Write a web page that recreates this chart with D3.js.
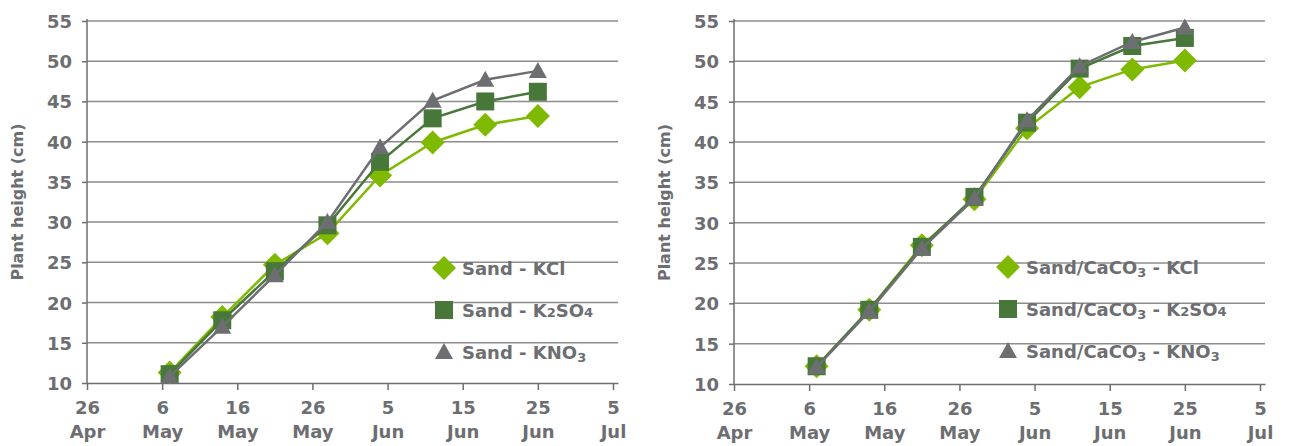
<!DOCTYPE html>
<html>
<head>
  <meta charset=utf-8 />
  <title>Plant height</title>
  <style>
    body { margin:0; background:#fff; }
    text { fill:#6d6e71; font-family:"DejaVu Sans"; font-weight:bold; font-size:18px; }
    .grid line { stroke:#8c8c8c; stroke-width:1.5px; }
    .domain { stroke:#6d6e71; stroke-width:1.5px; }
    .tick line { stroke:#6d6e71; stroke-width:1.5px; }
  </style>
</head>
<body>
  <div id="container"></div>
  <script src="https://d3js.org/d3.v7.min.js"></script>
  <script>

// dates of measurement (weekly)
var dates = ["2015-05-07","2015-05-14","2015-05-21","2015-05-28","2015-06-04","2015-06-11","2015-06-18","2015-06-25"];
var xTicks = ["2015-04-26","2015-05-06","2015-05-16","2015-05-26","2015-06-05","2015-06-15","2015-06-25","2015-07-05"];
var yTicks = [10,15,20,25,30,35,40,45,50,55];

// sand
var sandKCl   = [11.3, 18.2, 24.7, 28.6, 35.8, 39.9, 42.1, 43.2];
var sandK2SO4 = [11.1, 17.8, 23.9, 29.6, 37.5, 42.9, 45.0, 46.2];
var sandKNO3  = [10.8, 17.0, 23.4, 30.0, 39.3, 45.1, 47.7, 48.8];

// sand / CaCO3
var caKCl   = [12.2, 19.2, 27.2, 32.9, 41.7, 46.8, 49.0, 50.1];
var caK2SO4 = [12.2, 19.2, 27.0, 33.2, 42.4, 49.1, 51.9, 52.9];
var caKNO3  = [12.1, 19.0, 26.8, 33.0, 42.7, 49.4, 52.4, 54.2];

var colors = {kcl:"#7fba00", k2so4:"#48773a", kno3:"#6d6e71"};

var parse = d3.timeParse("%Y-%m-%d");
var fmtDay = d3.timeFormat("%-d"), fmtMon = d3.timeFormat("%b");

var svg = d3.select("#container").append("svg")
  .attr("width", 1290).attr("height", 446);

// marker shapes
function marker(g, type, x, y) {
  if (type == "kcl") {
    g.append("path").attr("d", "M"+x+","+(y-12)+"L"+(x+12)+","+y+"L"+x+","+(y+12)+"L"+(x-12)+","+y+"Z")
      .attr("fill", colors.kcl);
  } else if (type == "k2so4") {
    g.append("rect").attr("x", x-9).attr("y", y-9).attr("width", 18).attr("height", 18)
      .attr("fill", colors.k2so4);
  } else {
    g.append("path").attr("d", "M"+x+","+(y-9)+"L"+(x+9)+","+(y+7)+"L"+(x-9)+","+(y+7)+"Z")
      .attr("fill", colors.kno3);
  }
}

function chart(left, right, top, bottom, series, legend) {
  var x = d3.scaleTime()
    .domain([parse("2015-04-26"), d3.timeHour.offset(parse("2015-07-05"), 16)])
    .range([left, right]);
  var y = d3.scaleLinear().domain([10, 55]).range([bottom, top]);

  var g = svg.append("g");

  // horizontal gridlines
  g.append("g").attr("class", "grid")
    .selectAll("line").data(yTicks.slice(1)).enter().append("line")
    .attr("x1", left).attr("x2", right)
    .attr("y1", function(d){ return y(d); }).attr("y2", function(d){ return y(d); });

  // y axis
  var ya = g.append("g").attr("transform", "translate(" + left + ",0)")
    .call(d3.axisLeft(y).tickValues(yTicks).tickSize(5).tickPadding(10));
  ya.select(".domain").attr("d", "M0," + (top-2) + "V" + bottom);
  ya.selectAll("text").style("font-size", "18px").attr("dy", "0.36em");

  // x axis
  var xa = g.append("g").attr("transform", "translate(0," + bottom + ")")
    .call(d3.axisBottom(x).tickValues(xTicks.map(parse)).tickSize(7).tickSizeOuter(0).tickFormat(""));
  xa.select(".domain").attr("stroke", "#8c8c8c");
  xa.selectAll(".tick").append("text")
    .attr("y", 31).attr("text-anchor", "middle")
    .each(function(d) {
      var t = d3.select(this);
      t.append("tspan").attr("x", 0).text(fmtDay(d));
      t.append("tspan").attr("x", 0).attr("dy", 24).text(fmtMon(d));
    });

  // axis title
  g.append("text")
    .attr("transform", "translate(" + (left - 64) + "," + ((top + bottom) / 2) + ") rotate(-90)")
    .attr("text-anchor", "middle").style("font-size", "16px")
    .text("Plant height (cm)");

  // series
  series.forEach(function(s) {
    var pts = s.values.map(function(v, i) { return [x(parse(dates[i])), y(v)]; });
    var sg = g.append("g");
    sg.append("path").attr("d", d3.line()(pts))
      .attr("fill", "none").attr("stroke", colors[s.type]).attr("stroke-width", 2.5);
    pts.forEach(function(p) { marker(sg, s.type, p[0], p[1]); });
  });

  // legend
  legend.items.forEach(function(it, i) {
    var ly = legend.y + i * 42;
    marker(g, it.type, legend.x, ly);
    var t = g.append("text").attr("x", legend.x + 18).attr("y", ly + 6.5);
    var prev = 0;
    it.parts.forEach(function(p) {
      var shift = p.sub ? p.dy : 0;
      var ts = t.append("tspan").attr("dy", shift - prev).text(p.text);
      if (p.sub) ts.style("font-size", "13px");
      prev = shift;
    });
  });
}

chart(87, 618, 21, 383, [
  {type:"kcl", values:sandKCl},
  {type:"k2so4", values:sandK2SO4},
  {type:"kno3", values:sandKNO3}
], {x:444, y:268, items:[
  {type:"kcl", parts:[{text:"Sand - KCl"}]},
  {type:"k2so4", parts:[{text:"Sand - K"},{text:"2",sub:true,dy:0},{text:"SO"},{text:"4",sub:true,dy:0}]},
  {type:"kno3", parts:[{text:"Sand - KNO"},{text:"3",sub:true,dy:3}]}
]});

chart(734, 1265, 21, 384, [
  {type:"kcl", values:caKCl},
  {type:"k2so4", values:caK2SO4},
  {type:"kno3", values:caKNO3}
], {x:1008, y:267, items:[
  {type:"kcl", parts:[{text:"Sand/CaCO"},{text:"3",sub:true,dy:3},{text:" - KCl"}]},
  {type:"k2so4", parts:[{text:"Sand/CaCO"},{text:"3",sub:true,dy:3},{text:" - K"},{text:"2",sub:true,dy:0},{text:"SO"},{text:"4",sub:true,dy:0}]},
  {type:"kno3", parts:[{text:"Sand/CaCO"},{text:"3",sub:true,dy:3},{text:" - KNO"},{text:"3",sub:true,dy:3}]}
]});

  </script>
</body>
</html>
